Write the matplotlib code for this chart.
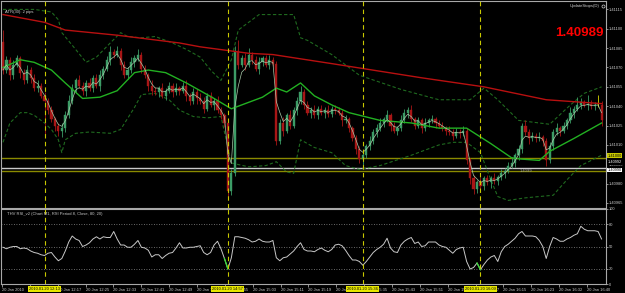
import matplotlib
matplotlib.use("Agg")
import matplotlib.pyplot as plt
import numpy as np
import pandas as pd

plt.rcParams['font.family'] = ['Liberation Sans', 'DejaVu Sans']

# ---------------- data ----------------
first_open = 1.41090
closes = [
    1.41068, 1.41076, 1.41064, 1.41072, 1.41077, 1.41066, 1.41060, 1.41068, 1.41062, 1.41054, 1.41056, 1.41048,
    1.41044, 1.41037, 1.41030, 1.41025, 1.41021, 1.41023,
    1.41033, 1.41044, 1.41054, 1.41060, 1.41056,
    1.41052, 1.41058, 1.41054, 1.41062, 1.41056, 1.41064,
    1.41069, 1.41076, 1.41082, 1.41080, 1.41083,
    1.41072, 1.41064, 1.41068, 1.41074, 1.41077,
    1.41080, 1.41069, 1.41064, 1.41056, 1.41052,
    1.41051, 1.41054, 1.41048, 1.41052, 1.41056, 1.41051, 1.41054,
    1.41052, 1.41056, 1.41048, 1.41044, 1.41051, 1.41046,
    1.41044, 1.41038, 1.41048, 1.41041, 1.41044, 1.41037, 1.41033,
    1.41027, 1.40974, 1.40988, 1.41083, 1.41072,
    1.41077, 1.41072, 1.41080, 1.41076, 1.41069, 1.41074, 1.41077, 1.41072, 1.41076, 1.41073,
    1.41013, 1.41027,
    1.41021, 1.41033, 1.41025, 1.41037,
    1.41044, 1.41051, 1.41041, 1.41035,
    1.41037, 1.41033, 1.41038, 1.41035, 1.41037, 1.41034, 1.41038,
    1.41037, 1.41035, 1.41029, 1.41030, 1.41023, 1.41015, 1.41007, 1.40999,
    1.41002,
    1.41009, 1.41013, 1.41020, 1.41023, 1.41027, 1.41030,
    1.41033, 1.41025, 1.41021, 1.41023,
    1.41029, 1.41035, 1.41037, 1.41030, 1.41025,
    1.41029, 1.41023, 1.41027, 1.41029, 1.41030,
    1.41027, 1.41025, 1.41023, 1.41021, 1.41020,
    1.41017, 1.41020, 1.41019, 1.41021,
    1.40998, 1.40984,
    1.40976, 1.40981, 1.40978, 1.40984,
    1.40981, 1.40984, 1.40982, 1.40985,
    1.40988, 1.40990, 1.40994, 1.40996,
    1.41002, 1.41007, 1.41025,
    1.41020, 1.41015, 1.41017,
    1.41015, 1.41016, 1.41013, 1.40998,
    1.41009, 1.41020, 1.41023,
    1.41021, 1.41025, 1.41029,
    1.41035, 1.41038, 1.41041, 1.41043,
    1.41041, 1.41042, 1.41040, 1.41041,
    1.41041, 1.41029,
]
wick_up_pts = [
    9, 3, 2, 4, 3, 2, 3, 4, 2, 3,
    4, 2, 3, 2, 3, 2, 2, 4, 3, 5,
    3, 2, 4, 3, 2, 4, 2, 3, 4, 2,
    3, 5, 2, 4, 2, 3, 2, 4, 3, 4,
    2, 3, 2, 4, 3, 2, 4, 2, 3, 2,
    4, 2, 3, 4, 2, 3, 2, 4, 3, 2,
    3, 2, 4, 2, 2, 2, 3, 4, 8, 3,
    4, 5, 2, 3, 4, 2, 3, 4, 2, 2,
    3, 5, 2, 4, 2, 3, 5, 2, 3, 2,
    4, 2, 3, 2, 4, 2, 3, 2, 2, 3,
    2, 2, 3, 2, 3, 2, 4, 2, 3, 4,
    2, 4, 2, 3, 2, 4, 3, 2, 4, 2,
    3, 2, 4, 2, 3, 2, 2, 3, 2, 4,
    2, 3, 2, 4, 2, 2, 3, 2, 4, 2,
    3, 2, 4, 2, 3, 2, 3, 5, 2, 3,
    2, 4, 2, 3, 2, 4, 2, 2, 3, 2,
    4, 2, 3, 2, 4, 2, 6, 3, 2, 7,
    3, 2, 8, 3,
]
wick_dn_pts = [
    3, 2, 4, 3, 2, 4, 3, 2, 4, 2,
    3, 2, 28, 3, 2, 4, 4, 5, 3, 2,
    2, 4, 2, 3, 4, 2, 3, 2, 4, 3,
    2, 4, 3, 2, 4, 2, 3, 2, 4, 2,
    3, 2, 4, 3, 2, 4, 2, 3, 2, 4,
    2, 3, 2, 4, 3, 2, 4, 2, 3, 2,
    2, 4, 2, 3, 3, 6, 3, 2, 3, 2,
    4, 2, 3, 2, 4, 3, 2, 3, 2, 3,
    2, 4, 2, 3, 2, 4, 2, 3, 2, 4,
    2, 3, 2, 4, 2, 2, 3, 2, 4, 2,
    3, 2, 4, 3, 5, 2, 3, 2, 4, 2,
    3, 2, 4, 2, 3, 2, 2, 4, 2, 3,
    2, 4, 2, 3, 2, 4, 2, 2, 3, 2,
    3, 2, 4, 2, 3, 4, 4, 3, 4, 3,
    2, 4, 2, 3, 2, 4, 2, 2, 3, 4,
    3, 2, 4, 2, 3, 2, 4, 4, 2, 3,
    2, 4, 2, 3, 2, 4, 2, 3, 2, 4,
    2, 3, 2, 4,
]
rsi = [
    49, 47, 49, 50, 50, 47, 48, 47, 44, 42,
    41, 39, 38, 41, 42, 36, 31, 34, 44, 56,
    64, 60, 58, 50, 52, 55, 60, 63, 60, 63,
    62, 62, 70, 60, 52, 52, 49, 49, 53, 58,
    49, 48, 45, 36, 39, 39, 34, 38, 41, 42,
    48, 55, 48, 48, 49, 49, 50, 51, 42, 39,
    42, 52, 57, 47, 34, 20, 35, 63, 63, 62,
    61, 59, 56, 57, 60, 57, 56, 56, 58, 35,
    31, 35, 36, 40, 44, 50, 55, 46, 44, 44,
    43, 46, 48, 45, 43, 46, 52, 53, 51, 45,
    38, 32, 32, 30, 25, 30, 36, 42, 46, 49,
    53, 61, 48, 43, 42, 52, 57, 60, 62, 54,
    56, 50, 51, 56, 56, 56, 52, 50, 49, 45,
    41, 46, 48, 49, 30, 20, 22, 28, 19, 26,
    32, 36, 38, 30, 43, 50, 53, 57, 61, 67,
    70, 64, 64, 64, 63, 58, 50, 34, 50, 62,
    60, 57, 57, 60, 62, 65, 67, 77, 73, 71,
    71, 71, 70, 60,
]
rsi_alerts = [(64, 65), (137, 138)]

ma_slow_idx = [0, 12, 18, 33, 51, 57, 71, 78, 95, 121, 139, 157, 173]
ma_slow = [1.41111, 1.41105, 1.41099, 1.41095, 1.41089, 1.41086, 1.41081, 1.41080,
           1.41073, 1.41062, 1.41055, 1.41045, 1.41042]

ma_mid_idx = [0, 5, 9, 14, 18, 23, 28, 33, 38, 42, 47, 53, 57, 61, 66, 71, 75, 79, 82, 86,
              90, 95, 100, 109, 118, 126, 134, 141, 147, 150, 155, 158, 165, 173]
ma_mid = [1.41070, 1.41076, 1.41074, 1.41068, 1.41058, 1.41046, 1.41047, 1.41052, 1.41066, 1.41068,
          1.41066, 1.41058, 1.41052, 1.41046, 1.41038, 1.41043, 1.41047, 1.41054, 1.41051, 1.41058,
          1.41048, 1.41041, 1.41035, 1.41029, 1.41027, 1.41023, 1.41023, 1.41011, 1.41000, 1.40999,
          1.40998, 1.41005, 1.41015, 1.41027]

band_up_idx = [0, 9, 14, 16, 17, 21, 24, 27, 31, 34, 36, 40, 44, 49, 53, 57, 60, 63, 66, 68,
               74, 84, 86, 88, 95, 103, 115, 126, 135, 139, 143, 149, 158, 164, 168, 173]
band_up = [1.41115, 1.41115, 1.41113, 1.41107, 1.41097, 1.41084, 1.41074, 1.41078, 1.41089, 1.41097,
           1.41094, 1.41093, 1.41094, 1.41089, 1.41084, 1.41078, 1.41068, 1.41060, 1.41076, 1.41099,
           1.41111, 1.41111, 1.41093, 1.41091, 1.41080, 1.41064, 1.41053, 1.41045, 1.41045, 1.41054,
           1.41045, 1.41029, 1.41026, 1.41041, 1.41050, 1.41055]

band_dn_idx = [0, 2, 5, 7, 9, 12, 14, 16, 17, 18, 21, 25, 31, 34, 38, 40, 44, 48, 51, 55,
               59, 63, 66, 71, 76, 79, 82, 84, 86, 90, 95, 99, 103, 109, 118, 126, 130, 134, 138, 141,
               143, 146, 151, 159, 163, 167, 173]
band_dn = [1.41012, 1.41027, 1.41035, 1.41035, 1.41033, 1.41027, 1.41022, 1.41014, 1.41004, 1.41014,
           1.41019, 1.41020, 1.41019, 1.41022, 1.41039, 1.41049, 1.41050, 1.41045, 1.41037, 1.41032,
           1.41031, 1.41032, 1.40996, 1.40993, 1.40994, 1.40997, 1.40989, 1.40988, 1.41014, 1.41008,
           1.41004, 1.40994, 1.40991, 1.40994, 1.41002, 1.41010, 1.41012, 1.41012, 1.41004, 1.40983,
           1.40970, 1.40967, 1.40969, 1.40971, 1.40983, 1.40994, 1.41002]

hline_olive = [1.41000, 1.40990]
hline_white = [1.40992]
event_bars = [12, 65, 104, 138]
event_labels = ["2010.01.20 12:13", "2010.01.20 14:57", "2010.01.20 15:36", "2010.01.20 16:09"]

price_ticks = [1.41115, 1.41100, 1.41085, 1.41070, 1.41055, 1.41040, 1.41025,
               1.41010, 1.40995, 1.40980, 1.40965]
rsi_ticks = [100, 80, 50, 20, 0]
rsi_levels = [80, 50, 20]
time_labels = ["20 Jan 2010", "20 Jan 12:09", "20 Jan 12:17", "20 Jan 12:25", "20 Jan 12:33",
               "20 Jan 12:41", "20 Jan 12:49", "20 Jan 12:57", "20 Jan 14:55", "20 Jan 15:03",
               "20 Jan 15:11", "20 Jan 15:19", "20 Jan 15:27", "20 Jan 15:35", "20 Jan 15:43",
               "20 Jan 15:51", "20 Jan 15:59", "20 Jan 16:07", "20 Jan 16:15", "20 Jan 16:23",
               "20 Jan 16:32", "20 Jan 16:40"]
stop_value = "1.40989"

# ---------------- layout ----------------
W, H = 625, 293
fig = plt.figure(figsize=(W / 100, H / 100), dpi=100, facecolor='black')

def fx(px):
    return px / W

def fy(py):
    return 1 - py / H

L, R = 1, 606
MT, MB = 1, 208
RT, RB = 209, 284
BAR0, BARW = 3.0, 3.46   # pixel of bar 0 and bar spacing

ax = fig.add_axes([fx(L), fy(MB), fx(R) - fx(L), fy(MT) - fy(MB)], facecolor='black')
axr = fig.add_axes([fx(L), fy(RB), fx(R) - fx(L), fy(RT) - fy(RB)], facecolor='black', sharex=ax)

xlo = (L - BAR0) / BARW
xhi = (R - BAR0) / BARW
ax.set_xlim(xlo, xhi)

# price scale: 1.41115 at y=9.4px, 1.40965 at y=203px
ppx = (203 - 9.4) / 0.00150
ytop = 1.41115 + (9.4 - MT) / ppx
ybot = 1.41115 - (MB - 9.4) / ppx
ax.set_ylim(ybot, ytop)
axr.set_ylim(0, 100)

spine_c = '#a8a8a8'
for a in (ax, axr):
    for s in a.spines.values():
        s.set_color(spine_c)
        s.set_linewidth(0.8)

# ---------------- candles ----------------
c = np.array(closes)
n = len(c)
o = np.concatenate([[first_open], c[:-1]])
idx = np.arange(n)
hi = np.maximum(o, c) + np.array(wick_up_pts[:n]) * 1e-5
lo = np.minimum(o, c) - np.array(wick_dn_pts[:n]) * 1e-5

bull_c, bear_c, doji_c = '#3c9c66', '#a81616', '#d8d800'
cols = []
for oi, ci in zip(o, c):
    if abs(ci - oi) < 0.5e-5:
        cols.append(doji_c)
    elif ci > oi:
        cols.append(bull_c)
    else:
        cols.append(bear_c)

ax.vlines(idx, lo, hi, colors=cols, linewidth=0.6, zorder=2)
body_lo = np.minimum(o, c)
body_h = np.abs(c - o)
ax.bar(idx, body_h, bottom=body_lo, width=0.62, color=cols, edgecolor=cols,
       linewidth=0.3, zorder=2.1)

# ---------------- indicators ----------------
ax.plot(band_up_idx, band_up, color='#1f6a1f', lw=0.8, ls=(0, (3, 2)), zorder=1.8)
ax.plot(band_dn_idx, band_dn, color='#1f6a1f', lw=0.8, ls=(0, (3, 2)), zorder=1.8)
ax.plot(ma_slow_idx, ma_slow, color='#b81010', lw=1.0, zorder=3)
ax.plot(ma_mid_idx, ma_mid, color='#22b022', lw=1.0, zorder=3)
fast = pd.Series(c).ewm(span=3, adjust=False).mean()
ax.plot(idx, fast, color='#a9c9a9', lw=0.5, zorder=3.1)

for p in hline_olive:
    ax.axhline(p, color='#8a8a00', lw=1.0, zorder=1.5)
for p in hline_white:
    ax.axhline(p, color='#c8c8c8', lw=1.0, zorder=1.5)

for b in event_bars:
    for a in (ax, axr):
        a.axvline(b, color='#c8c800', lw=0.8, ls=(0, (4, 3)), zorder=4)

# ---------------- RSI ----------------
r = np.array(rsi[:n], dtype=float)
for lv in rsi_levels:
    axr.axhline(lv, color='#8c8c8c', lw=0.6, ls=(0, (1, 2)))
axr.plot(np.arange(len(r)), r, color='#c8c8c8', lw=0.7, zorder=3)
for a0, a1 in rsi_alerts:
    axr.plot(np.arange(a0, a1 + 1), r[a0:a1 + 1], color='#33dd33', lw=0.9, zorder=3.2)

# ---------------- axes ticks ----------------
lab_c = '#c8c8c8'
ax.yaxis.tick_right()
ax.set_yticks(price_ticks)
ax.set_yticklabels([f'{p:.5f}' for p in price_ticks])
ax.tick_params(axis='y', colors=lab_c, labelsize=2.9, length=1.5, width=0.5, pad=0.8)
ax.tick_params(axis='x', bottom=False, labelbottom=False, length=0)

axr.yaxis.tick_right()
axr.set_yticks(rsi_ticks)
axr.set_yticklabels([str(t) for t in rsi_ticks])
axr.tick_params(axis='y', colors=lab_c, labelsize=2.9, length=1.5, width=0.5, pad=0.8)

tick_px = [2 + 27.86 * k for k in range(len(time_labels))]
tick_bars = [(p - BAR0) / BARW for p in tick_px]
axr.set_xticks(tick_bars)
axr.set_xticklabels(time_labels, ha='left')
axr.tick_params(axis='x', colors=lab_c, labelsize=2.9, length=2, width=0.5, pad=1)
ax.set_xlim(xlo, xhi)

# highlighted event time labels
for b, t in zip(event_bars, event_labels):
    px = BAR0 + BARW * b
    fig.text(fx(px), fy(288.6), t, ha='center', va='center', fontsize=2.9, color='black',
             bbox=dict(facecolor='#e6e600', edgecolor='none', pad=0.7), zorder=10)

# price labels for horizontal lines (stacked on the price scale)
ytr = ax.get_yaxis_transform()
lab_x = 1.0025
ax.text(lab_x, hline_olive[0] + 0.000016, f'{hline_olive[0]:.5f}', transform=ytr, ha='left',
        va='center', fontsize=2.8, color='black', clip_on=False, zorder=10,
        bbox=dict(facecolor='#c8c800', edgecolor='none', pad=0.25))
ax.text(lab_x, hline_white[0] + 0.000046, f'{hline_white[0]:.5f}', transform=ytr, ha='left',
        va='center', fontsize=2.8, color='white', clip_on=False, zorder=10,
        bbox=dict(facecolor='black', edgecolor='none', pad=0.25))
ax.text(lab_x, hline_olive[1] + 0.000006, f'{hline_olive[1]:.5f}', transform=ytr, ha='left',
        va='center', fontsize=2.8, color='black', clip_on=False, zorder=10,
        bbox=dict(facecolor='white', edgecolor='none', pad=0.25))

# ---------------- texts ----------------
fig.text(fx(5), fy(11.5), 'ATR(30): 2 pips', ha='left', va='center', fontsize=3.0, color='#d0d0d0')
fig.text(fx(599), fy(5.5), 'UpdateStops(D)', ha='right', va='center', fontsize=3.0, color='#d0d0d0')
fig.add_artist(plt.Line2D([fx(602.5)], [fy(5.5)], marker='o', markersize=2.2, mfc='none',
                          mec='#d0d0d0', mew=0.5, transform=fig.transFigure))
fig.text(fx(604), fy(33), stop_value, ha='right', va='center', fontsize=9.6, weight='bold',
         color='#ff0000')
fig.text(fx(526), fy(171), '1.4099', ha='center', va='center', fontsize=3.0, color='#a0a0a0')
fig.text(fx(7), fy(213.5), 'THV RSI_v2 (Chart M1, RSI Period 8, Close, 80, 20)', ha='left',
         va='center', fontsize=3.0, color='#c8c8c8')

fig.savefig('out.png', dpi=100, facecolor='black')
